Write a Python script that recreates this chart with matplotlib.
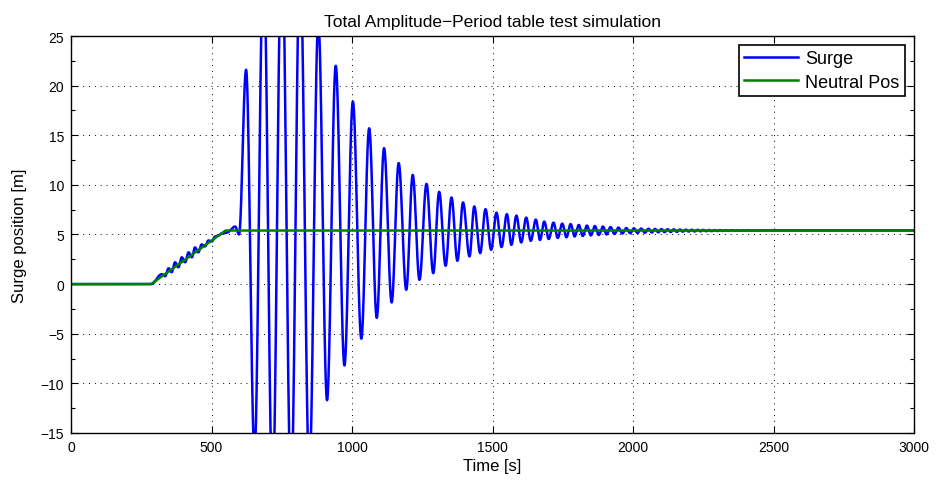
import numpy as np
import matplotlib
matplotlib.use("Agg")
import matplotlib.pyplot as plt
from matplotlib.ticker import MultipleLocator

plt.rcParams['font.family'] = ['Liberation Sans', 'DejaVu Sans']

# neutral position (piecewise linear)
neutral_t = [0, 285, 550, 3000]
neutral_y = [0.0, 0.0, 5.4, 5.4]

# surge signal: successive peaks/troughs
surge_t = [0, 285, 323, 335, 347, 358, 370, 382, 394, 406, 418, 430, 441, 453,
           465, 477, 489, 501, 513, 525, 537, 555, 584, 598,
           623, 653, 685, 717, 750, 783, 815, 848, 880, 911, 942, 973,
           1003, 1033, 1061, 1088, 1114, 1141, 1166, 1193, 1216, 1240,
           1265, 1289, 1310, 1333, 1354, 1375, 1395, 1418, 1435, 1456,
           1475, 1495, 1514, 1532, 1551, 1567, 1585, 1602, 1620, 1636,
           1654, 1669, 1684, 1700, 1717, 1732, 1748, 1763, 1778, 1792,
           1807, 1821, 1836, 1850, 1864, 1878, 1893, 1906, 1920, 1934,
           1948, 1962, 1976, 1990, 2003, 2016, 2029, 2042, 2055, 2067,
           2078, 2090, 2101, 2112, 2123, 2134, 2145, 2156, 2167, 2177,
           2188, 2198, 2209, 2219, 2230, 2240, 2250, 2260, 2270, 2280,
           2290, 2300, 2310, 2320, 2330, 2340, 2350, 2360, 2370, 2380,
           2390, 2400, 2410, 2420, 2430, 2440, 2450, 2500, 3000]
surge_y = [0.0, 0.0, 1.0, 0.8, 1.6, 1.2, 2.2, 1.7, 2.7, 2.2, 3.2, 2.7, 3.7, 3.2,
           4.0, 3.8, 4.4, 4.3, 4.8, 4.9, 5.1, 5.2, 5.8, 5.0,
           21.6, -17.0, 33.0, -21.0, 35.0, -21.0, 33.0, -19.0, 26.5, -11.7, 22.0, -8.2,
           18.4, -5.5, 15.7, -3.4, 13.7, -1.85, 12.2, -0.57, 11.0, 0.44,
           10.1, 1.1, 9.3, 1.85, 8.73, 2.35, 8.23, 2.79, 7.83, 3.12,
           7.55, 3.46, 7.2, 3.73, 7.05, 3.96, 6.9, 4.2, 6.7, 4.36,
           6.5, 4.45, 6.3, 4.55, 6.2, 4.65, 6.1, 4.72, 6.05, 4.8,
           5.96, 4.85, 5.9, 4.9, 5.85, 4.95, 5.8, 5.0, 5.75, 5.05,
           5.7, 5.1, 5.65, 5.13, 5.62, 5.16, 5.6, 5.18, 5.58, 5.2,
           5.56, 5.22, 5.55, 5.24, 5.53, 5.26, 5.52, 5.27, 5.5, 5.29,
           5.49, 5.3, 5.48, 5.31, 5.47, 5.32, 5.46, 5.33, 5.45, 5.34,
           5.44, 5.35, 5.44, 5.36, 5.43, 5.37, 5.43, 5.38, 5.42, 5.38,
           5.42, 5.39, 5.42, 5.39, 5.41, 5.39, 5.41, 5.41, 5.41]


def smooth_through(tp, yp, n=30):
    # half-cosine segments between successive extrema
    ts, ys = [], []
    for i in range(len(tp) - 1):
        s = np.linspace(0, 1, n, endpoint=False)
        ts.append(tp[i] + (tp[i + 1] - tp[i]) * s)
        ys.append(yp[i] + (yp[i + 1] - yp[i]) * (1 - np.cos(np.pi * s)) / 2)
    ts.append([tp[-1]])
    ys.append([yp[-1]])
    return np.concatenate(ts), np.concatenate(ys)


t, y = smooth_through(surge_t, surge_y)

fig = plt.figure(figsize=(9.37, 4.85), dpi=100)
ax = fig.add_axes([0.0758, 0.1052, 0.8997, 0.8185])

ax.plot(t, y, color=(0, 0, 1), lw=1.8, label='Surge')
ax.plot(neutral_t, neutral_y, color=(0, 0.5, 0), lw=1.8, label='Neutral Pos')

ax.set_xlim(0, 3000)
ax.set_ylim(-15, 25)
ax.xaxis.set_major_locator(MultipleLocator(500))
ax.yaxis.set_major_locator(MultipleLocator(5))
ax.yaxis.set_minor_locator(MultipleLocator(2.5))
ax.tick_params(which='both', direction='in', top=True, right=True,
               labelsize=10, width=0.8)
ax.tick_params(which='major', length=5, pad=5)
ax.tick_params(which='minor', length=3)
for sp in ax.spines.values():
    sp.set_linewidth(1.0)
ax.grid(True, which='major', linestyle=(0, (1, 5)), color='black', lw=0.7)

ax.set_xlabel('Time [s]', fontsize=12, labelpad=3)
ax.set_ylabel('Surge position [m]', fontsize=12, labelpad=10)
ax.set_title('Total Amplitude\u2212Period table test simulation', fontsize=12.5, pad=7)

leg = ax.legend(loc='upper right', fontsize=13, handlelength=3.0,
                fancybox=False, framealpha=1, borderaxespad=0.5,
                borderpad=0.3, labelspacing=0.35, handletextpad=0.4)
leg.get_frame().set_edgecolor('black')
leg.get_frame().set_linewidth(1.2)

fig.savefig('out.png', dpi=100)
